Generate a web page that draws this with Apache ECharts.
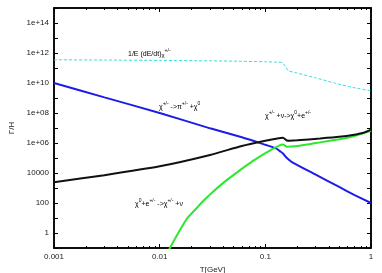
<!DOCTYPE html>
<html><head><meta charset="utf-8">
<script src="https://cdn.jsdelivr.net/npm/echarts@6/dist/echarts.min.js"></script>
<style>html,body{margin:0;padding:0;background:#fff}#c{width:382px;height:273px}</style>
</head><body><div id="c"></div>
<script>
// Temperature grids (GeV) and rates Γ/H for each curve
const cyanT = [0.001,0.003,0.01,0.03,0.06,0.1,0.13,0.145,0.155,0.165,0.2,0.3,0.45,0.67,1];
const cyanV = [3.55e11,3.4e11,3.2e11,3.0e11,2.8e11,2.6e11,2.45e11,2.3e11,1.25e11,6.6e10,4.6e10,2.2e10,1e10,5.1e9,3e9];

const blueT = [0.001,0.003,0.01,0.03,0.06,0.1,0.125,0.14,0.147,0.16,0.18,0.3,0.5,0.7,1];
const blueV = [1e10,1.1e9,1e8,9.5e6,2.4e6,7.6e5,4.5e5,2.6e5,2.0e5,1.0e5,5.2e4,7.8e3,1.17e3,340,100];

const blackT = [0.001,0.003,0.01,0.03,0.06,0.1,0.13,0.147,0.16,0.17,0.2,0.33,0.5,0.67,0.85,1];
const blackV = [2.4e3,7.2e3,2.8e4,1.6e5,6.3e5,1.4e6,2.0e6,2.2e6,1.45e6,1.42e6,1.5e6,2e6,2.6e6,3.4e6,4.8e6,7.8e6];

const greenT = [0.0118,0.0125,0.015,0.018,0.022,0.026,0.032,0.04,0.054,0.077,0.11,0.135,0.147,0.16,0.2,0.33,0.5,0.67,1];
const greenV = [0.04,0.1,1,8.5,40,140,560,2.2e3,1.1e4,6.6e4,3.1e5,6.6e5,7.8e5,5.6e5,6.2e5,1.1e6,1.8e6,2.75e6,6.6e6];

const FONT = 'Liberation Sans';
const zip = (a,b) => a.map((t,i)=>[t,b[i]]);
const fmtY = v => {
  const e = Math.round(Math.log10(v));
  if (e < 0 || e % 2 !== 0) return '';
  return e >= 6 ? '1e+' + (e < 10 ? '0' + e : e) : String(Math.round(Math.pow(10, e)));
};
const fmtX = v => String(+Math.pow(10, Math.round(Math.log10(v))).toPrecision(3));

function xAx(pos, labels) {
  return {type:'log', logBase:10, min:0.001, max:1, interval:1, position:pos,
    axisLine:{show:true, lineStyle:{color:'#000', width:1.5}},
    axisTick:{show:true, inside:true, length:4, lineStyle:{color:'#000'}},
    minorTick:{show:true, splitNumber:9, length:2, lineStyle:{color:'#000'}},
    axisLabel:{show:labels, formatter:fmtX, fontFamily:FONT, fontSize:8, color:'#222', margin:5},
    splitLine:{show:false}, minorSplitLine:{show:false},
    name:(labels ? 'T[GeV]' : ''), nameLocation:'middle', nameGap:17,
    nameTextStyle:{fontFamily:FONT, fontSize:8, color:'#222'}};
}
function yAx(pos, labels) {
  return {type:'log', logBase:10, min:0.1, max:1e15, interval:1, position:pos,
    axisLine:{show:true, lineStyle:{color:'#000', width:1.5}},
    axisTick:{show:true, inside:true, length:4, lineStyle:{color:'#000'}},
    minorTick:{show:false},
    axisLabel:{show:labels, formatter:fmtY, fontFamily:FONT, fontSize:8, color:'#222', margin:5, showMinLabel:true, showMaxLabel:true},
    splitLine:{show:false},
    name:(labels ? 'Γ/H' : ''), nameLocation:'middle', nameGap:36, nameRotate:90,
    nameTextStyle:{fontFamily:FONT, fontSize:8, color:'#222'}};
}
const rich = c => ({
  a:{fontFamily:FONT, fontSize:7, color:c, lineHeight:10, verticalAlign:'bottom'},
  p:{fontFamily:FONT, fontSize:5, color:c, lineHeight:10, verticalAlign:'top'},
  s:{fontFamily:FONT, fontSize:6, color:c, lineHeight:10, verticalAlign:'bottom'}
});
function txt(x, y, t, c) {
  return {type:'text', left:x, top:y, style:{text:t, rich:rich(c)}};
}

const chart = echarts.init(document.getElementById('c'), null, {renderer:'canvas'});
chart.setOption({
  animation:false,
  backgroundColor:'#fff',
  grid:{left:54, right:11, top:8, bottom:25, show:true, borderColor:'#000', borderWidth:1.5, containLabel:false, outerBoundsMode:'none'},
  xAxis:[xAx('bottom', true), xAx('top', false)],
  yAxis:[yAx('left', true), yAx('right', false)],
  series:[
    {type:'line', data:zip(cyanT,cyanV), showSymbol:false, smooth:0.2, lineStyle:{color:'#33e0e0', width:1, type:[3,2]}},
    {type:'line', data:zip(blueT,blueV), showSymbol:false, smooth:0.2, lineStyle:{color:'#1c1ce8', width:2}},
    {type:'line', data:zip(greenT,greenV), showSymbol:false, smooth:0.2, lineStyle:{color:'#2ee82e', width:2}},
    {type:'line', data:zip(blackT,blackV), showSymbol:false, smooth:0.2, lineStyle:{color:'#111', width:2}}
  ],
  graphic:[
    txt(128, 48, '{a|1/E (dE/dt)}{s|χ}{p|+/-}', '#33e0e0'),
    txt(159, 101, '{a|χ}{p|+/-}{a| ->π}{p|+/-}{a| +χ}{p|0}', '#3a3ae8'),
    txt(265, 110, '{a|χ}{p|+/-}{a| +ν->χ}{p|0}{a|+e}{p|+/-}', '#111'),
    txt(135, 198, '{a|χ}{p|0}{a|+e}{p|+/-}{a| ->χ}{p|+/-}{a| +ν}', '#2ee82e')
  ]
});
</script></body></html>
